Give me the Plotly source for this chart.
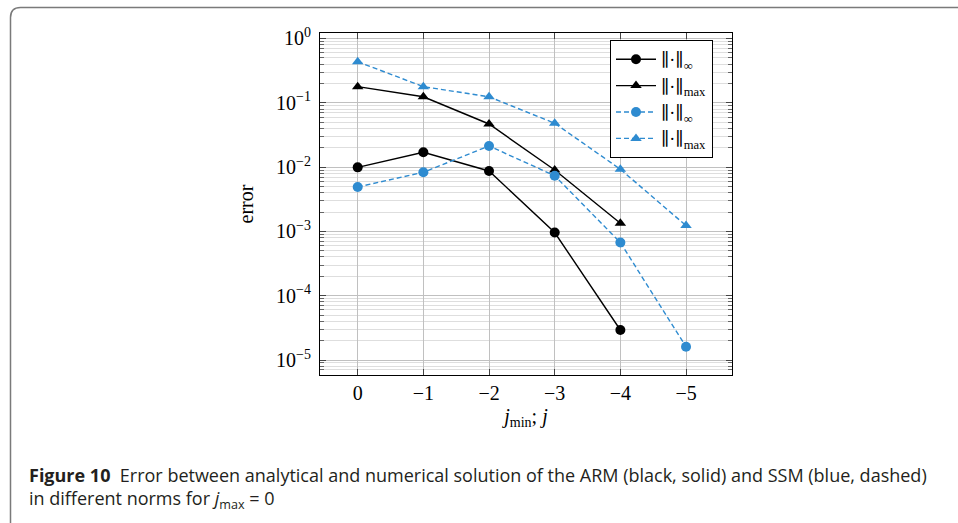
import plotly.graph_objects as go

# ---------------- data ----------------
x_arm = [0, -1, -2, -3, -4]
x_ssm = [0, -1, -2, -3, -4, -5]
arm_inf = [0.0099, 0.017, 0.0087, 0.00096, 2.93e-5]
arm_max = [0.178, 0.124, 0.0468, 0.0090, 0.00134]
ssm_inf = [0.0049, 0.0083, 0.0213, 0.00735, 0.00067, 1.61e-5]
ssm_max = [0.435, 0.178, 0.124, 0.048, 0.00925, 0.00123]

x_tickvals = [0, -1, -2, -3, -4, -5]
x_ticktext = ["0", "−1", "−2", "−3", "−4", "−5"]
y_tickvals = [1, 1e-1, 1e-2, 1e-3, 1e-4, 1e-5]
y_ticktext = ["10<sup>0</sup>", "10<sup>−1</sup>", "10<sup>−2</sup>",
              "10<sup>−3</sup>", "10<sup>−4</sup>", "10<sup>−5</sup>"]
y_minor = [m * 10.0 ** k for k in range(-6, 1) for m in range(2, 10)]

name_inf = "∥·∥<sub>∞</sub>"
name_max = "∥·∥<sub>max</sub>"
caption = ("<b>Figure 10</b>  Error between analytical and numerical solution of the ARM "
           "(black, solid) and SSM (blue, dashed)<br>"
           "in different norms for <i>j</i><sub>max</sub> = 0")

BLACK = "#000000"
BLUE = "#2e8bd0"
SERIF = "Liberation Serif, DejaVu Serif, serif"
FS = 20

# plot-area geometry (pixels)
L, R, T, B = 320, 732, 33, 375
W, H = 958, 523
def X(px):
    return (px - L) / (R - L)
def Y(py):
    return (B - py) / (B - T)

fig = go.Figure()
fig.add_trace(go.Scatter(x=x_arm, y=arm_inf, name=name_inf, mode="lines+markers",
                         line=dict(color=BLACK, width=1.4),
                         marker=dict(symbol="circle", size=10, color=BLACK)))
fig.add_trace(go.Scatter(x=x_arm, y=arm_max, name=name_max, mode="lines+markers",
                         line=dict(color=BLACK, width=1.4),
                         marker=dict(symbol="triangle-up", size=10, color=BLACK)))
fig.add_trace(go.Scatter(x=x_ssm, y=ssm_inf, name=name_inf, mode="lines+markers",
                         line=dict(color=BLUE, width=1.4, dash="5px,3px"),
                         marker=dict(symbol="circle", size=10, color=BLUE)))
fig.add_trace(go.Scatter(x=x_ssm, y=ssm_max, name=name_max, mode="lines+markers",
                         line=dict(color=BLUE, width=1.4, dash="5px,3px"),
                         marker=dict(symbol="triangle-up", size=10, color=BLUE)))

fig.update_layout(
    width=W, height=H,
    margin=dict(l=L, r=W - R, t=T, b=H - B, autoexpand=False),
    paper_bgcolor="white", plot_bgcolor="white",
    font=dict(family=SERIF, size=FS, color="black"),
    showlegend=True,
    legend=dict(x=X(610), y=Y(40), xanchor="left", yanchor="top",
                bgcolor="white", bordercolor="black", borderwidth=1,
                font=dict(family=SERIF, size=18), itemwidth=40,
                tracegroupgap=0),
    xaxis=dict(range=[0.574, -5.70], tickmode="array", tickvals=x_tickvals,
               ticktext=x_ticktext, showgrid=True, gridcolor="#c0c0c0", gridwidth=1.2,
               zeroline=False, showline=True, linecolor="black", linewidth=1.2,
               mirror="allticks", ticks="inside", ticklen=6, tickcolor="#444",
               tickfont=dict(family=SERIF, size=FS),
               title=dict(text="<i>j</i><sub>min</sub>; <i>j</i>", standoff=5,
                          font=dict(family=SERIF, size=FS))),
    yaxis=dict(type="log", range=[-5.233, 0.085], tickmode="array",
               tickvals=y_tickvals, ticktext=y_ticktext,
               showgrid=True, gridcolor="#c0c0c0", gridwidth=1.2,
               zeroline=False, showline=True, linecolor="black", linewidth=1.2,
               mirror="allticks", ticks="inside", ticklen=6, tickcolor="#444",
               ticklabelstandoff=4,
               tickfont=dict(family=SERIF, size=FS),
               minor=dict(tickmode="array", tickvals=y_minor, showgrid=True,
                          gridcolor="#dedede", gridwidth=1, ticks="inside",
                          ticklen=4, tickcolor="#666"),
               title=dict(text="error", standoff=16,
                          font=dict(family=SERIF, size=FS))),
)

# outer rounded frame of the figure panel
r = 10
path = (f"M {X(10.5)},{Y(540)} L {X(10.5)},{Y(7.5 + r)} "
        f"Q {X(10.5)},{Y(7.5)} {X(10.5 + r)},{Y(7.5)} L {X(990)},{Y(7.5)}")
fig.add_shape(type="path", path=path, xref="paper", yref="paper",
              line=dict(color="#7a7a7a", width=1.5), layer="above")

CAPFONT = dict(family="Open Sans, Lato, sans-serif", size=18, color="#231f20")
fig.add_annotation(text=caption, xref="paper", yref="paper", x=X(27), y=Y(461),
                   xanchor="left", yanchor="top", align="left", showarrow=False,
                   font=CAPFONT)

fig.write_html("out.html")
